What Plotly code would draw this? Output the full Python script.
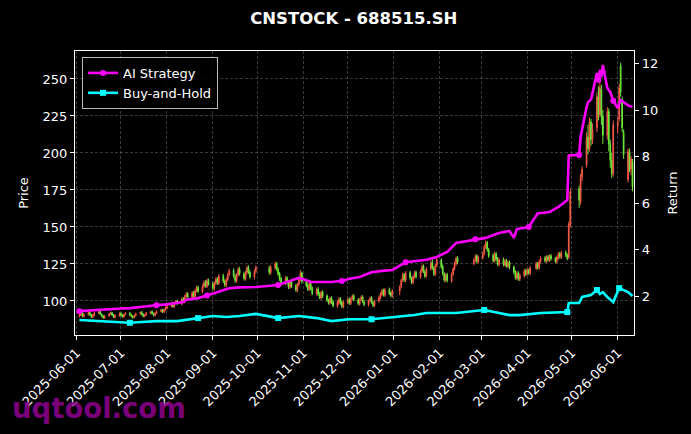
import pandas as pd
import plotly.graph_objects as go

# ---------------- data ----------------
holidays = ['2025-06-02', '2025-10-01', '2025-10-02', '2025-10-03', '2025-10-06',
            '2025-10-07', '2025-10-08', '2026-01-01', '2026-01-02', '2026-02-16',
            '2026-02-17', '2026-02-18', '2026-02-19', '2026-02-20', '2026-02-23',
            '2026-04-06', '2026-05-01', '2026-05-04', '2026-05-05']

open_ = [
    89.6, 90.6, 91.8, 89.5, 90.8, 92.3, 90.7, 89.2, 90.2, 91.8, 92.8, 91.0, 89.9, 88.4, 89.8, 91.3, 92.1, 90.6, 88.9, 90.1,
    91.6, 90.3, 89.3, 90.9, 91.8, 90.5, 89.6, 88.9, 90.2, 91.5, 92.4, 91.0, 89.6, 90.6, 91.9, 92.8, 91.4, 90.2, 91.7, 93.0, 93.9, 92.5, 94.0,
    95.1, 96.6, 98.0, 96.0, 98.7, 99.9, 97.9, 101.5, 99.2, 103.0, 104.8, 102.3, 105.6, 102.8, 107.1, 109.2, 106.1, 110.0, 112.6, 109.8, 113.9,
    111.5, 108.4, 112.1, 115.0, 112.0, 117.1, 113.2, 110.6, 114.5, 117.9, 120.6, 116.6, 113.5, 117.7, 121.5, 118.2, 115.0, 119.2, 122.7, 119.4, 116.0, 120.1,
    122.1, 119.1, 122.5, 125.4, 121.3, 118.5, 115.1, 111.9, 115.6, 112.1, 109.3, 113.1, 110.4, 107.1, 111.2, 114.3, 118.9,
    113.5, 110.9, 108.1, 111.7, 108.5, 104.8, 108.1, 104.9, 102.0, 106.0, 103.4, 100.3, 98.6, 102.1, 99.5, 96.5, 98.6, 101.6, 99.0, 96.1,
    98.9, 101.1, 98.3, 101.7, 103.5, 100.6, 98.0, 100.9, 102.8, 99.5, 97.3, 100.2, 102.1, 99.0, 96.8, 99.9, 102.1, 104.5, 107.2, 103.9, 107.8, 105.4, 103.3,
    106.5, 109.7, 114.1, 117.9, 113.9, 119.2, 115.3, 112.5, 116.6, 119.4, 116.1, 120.1, 123.5, 119.8, 117.0, 121.8, 126.1, 122.1, 118.0, 124.0,
    127.6, 123.4, 118.3, 114.0, 117.8, 113.5, 118.2, 121.9, 125.0, 129.0, 125.3, 127.7, 130.4, 126.5,
    129.2, 132.1, 136.7, 139.5, 134.4, 130.8, 127.0, 131.9, 128.5, 124.6, 128.1, 124.3, 127.2, 123.5, 126.2, 122.9, 119.7, 115.5, 118.9, 114.6, 117.0, 120.5,
    118.4, 121.1, 118.6, 122.0, 125.4, 122.3, 126.7, 129.2, 126.9, 129.9, 127.5, 130.6, 128.8, 126.6, 129.1, 132.0, 129.5, 132.9, 131.2, 129.5, 151.2,
    176, 167, 184, 192, 211, 203, 221, 209, 217, 238, 226, 243, 225, 212, 228, 206, 195, 186,
    218, 223, 259, 236, 214, 182, 200, 189, 194,
]
high = [
    91.9, 92.4, 92.5, 91.6, 93.0, 92.9, 91.4, 91.2, 92.8, 93.5, 93.4, 91.6, 90.5, 90.6, 91.9, 92.9, 92.6, 91.2, 91.0, 92.3,
    92.4, 91.1, 91.5, 92.5, 92.6, 91.3, 90.3, 90.9, 92.1, 92.9, 93.2, 91.7, 91.2, 92.5, 93.5, 93.6, 92.2, 92.4, 93.7, 94.7, 94.6, 94.9, 96.2,
    97.3, 98.6, 99.1, 99.4, 100.8, 100.7, 102.5, 102.6, 104.1, 105.9, 106.0, 106.6, 106.8, 108.2, 110.4, 110.3, 111.2, 113.9, 114.0, 115.2, 115.1,
    113.0, 113.2, 116.1, 116.2, 118.3, 118.4, 114.6, 115.7, 119.0, 121.8, 122.1, 118.2, 118.9, 122.7, 123.0, 119.6, 120.4, 123.9, 124.1, 120.8, 121.3, 124.0,
    123.6, 124.3, 126.5, 126.3, 122.8, 119.6, 116.2, 116.7, 116.8, 113.3, 114.1, 114.4, 111.6, 112.2, 115.8, 120.9, 119.8,
    114.6, 112.2, 112.7, 112.9, 109.7, 109.1, 109.3, 106.2, 106.9, 107.2, 104.5, 101.5, 102.9, 103.1, 100.6, 100.2, 102.5, 102.7, 100.1, 100.4,
    102.0, 102.3, 102.6, 104.4, 104.6, 101.9, 101.8, 103.7, 103.9, 100.6, 101.0, 103.0, 103.2, 100.2, 100.8, 103.6, 105.9, 108.1, 108.4, 108.7, 109.0, 106.5, 108.0,
    110.6, 115.2, 119.1, 119.0, 120.2, 120.3, 116.5, 117.6, 120.4, 120.5, 121.2, 124.6, 124.7, 121.1, 122.9, 127.3, 129.6, 123.5, 125.1, 130.2,
    128.9, 124.6, 119.5, 118.8, 119.0, 119.1, 122.9, 126.6, 130.1, 130.3, 128.7, 131.4, 131.6, 130.8,
    133.3, 137.8, 140.9, 140.6, 135.8, 132.1, 133.1, 133.0, 129.7, 129.2, 129.3, 128.3, 128.4, 127.2, 127.4, 124.1, 120.9, 120.0, 120.1, 118.6, 121.5, 121.8,
    122.2, 121.9, 123.6, 126.5, 126.3, 127.7, 130.2, 130.4, 130.9, 131.0, 131.6, 131.7, 129.9, 130.6, 132.9, 133.2, 133.8, 134.1, 132.0, 153.6, 176.2,
    178, 186, 191, 214, 219, 224, 223, 220, 241, 245, 248, 246, 229, 231, 230, 209, 200, 222,
    224, 247, 261, 238, 216, 203, 203, 198, 196,
]
low = [
    88.9, 89.9, 89.0, 88.8, 90.1, 90.0, 88.6, 88.5, 89.6, 91.1, 90.5, 89.1, 87.9, 87.8, 89.2, 90.6, 89.8, 88.4, 88.2, 89.4,
    89.5, 88.7, 88.6, 90.2, 89.9, 88.8, 88.1, 88.2, 89.5, 90.8, 90.2, 89.0, 88.9, 89.9, 91.2, 90.8, 89.6, 89.5, 91.0, 92.3, 91.9, 91.8, 93.3,
    94.4, 95.8, 95.4, 95.3, 97.9, 97.2, 97.1, 98.6, 98.4, 102.1, 101.7, 101.5, 102.2, 102.0, 106.0, 105.3, 105.2, 108.9, 109.0, 108.7, 110.3,
    106.9, 107.1, 110.8, 110.9, 110.7, 112.1, 109.5, 109.2, 113.1, 116.5, 115.5, 112.4, 112.2, 116.3, 117.1, 113.8, 113.7, 117.8, 118.3, 114.9, 114.6, 118.7,
    117.8, 117.6, 121.1, 120.2, 116.9, 113.5, 110.3, 110.6, 111.2, 108.1, 108.0, 108.8, 106.1, 105.9, 109.9, 113.2, 111.8,
    109.3, 106.7, 106.8, 107.0, 103.9, 103.6, 103.4, 101.1, 100.8, 101.9, 99.4, 97.6, 97.4, 98.0, 95.6, 95.3, 97.4, 97.5, 95.2, 94.9,
    97.7, 97.4, 97.2, 100.5, 99.7, 97.1, 96.9, 99.8, 98.6, 96.4, 96.2, 98.9, 98.1, 95.9, 95.7, 98.8, 101.0, 103.3, 103.0, 102.7, 104.0, 102.4, 102.1,
    103.8, 108.5, 112.9, 112.8, 112.6, 114.3, 111.4, 111.3, 115.2, 115.1, 115.0, 118.8, 118.9, 115.4, 115.8, 120.5, 121.1, 116.9, 116.8, 122.7,
    121.8, 117.3, 112.9, 112.7, 112.5, 112.2, 116.9, 120.6, 123.8, 124.9, 124.0, 126.4, 125.5, 125.2,
    127.9, 130.8, 135.3, 133.2, 129.1, 126.0, 125.8, 126.9, 123.6, 123.4, 123.3, 123.1, 122.5, 122.3, 121.4, 118.1, 114.4, 114.2, 113.6, 113.3, 115.8, 116.8,
    117.2, 117.6, 117.4, 120.8, 121.3, 121.1, 125.5, 125.9, 125.7, 126.5, 126.3, 127.2, 125.6, 125.4, 127.9, 128.5, 128.3, 129.7, 127.5, 128.4, 149.6,
    163, 165, 181, 190, 199, 201, 205, 206, 214, 222, 224, 219, 206, 209, 201, 190, 183, 184,
    213, 221, 238, 214, 196, 180, 187, 185, 174,
]
close = [
    90.8, 91.6, 89.7, 90.9, 92.1, 90.6, 89.3, 90.4, 91.9, 92.6, 91.1, 89.8, 88.6, 89.9, 91.2, 92.0, 90.5, 89.1, 90.3, 91.5,
    90.2, 89.4, 90.8, 91.7, 90.6, 89.5, 88.8, 90.1, 91.4, 92.2, 90.9, 89.7, 90.5, 91.8, 92.7, 91.5, 90.3, 91.6, 92.9, 93.8, 92.6, 94.1, 95.3,
    96.4, 97.8, 96.2, 98.5, 99.7, 98.1, 101.2, 99.4, 102.8, 104.5, 102.6, 105.3, 103.1, 106.8, 108.9, 106.4, 109.7, 112.3, 110.1, 113.6, 111.2,
    108.6, 111.9, 114.7, 112.3, 116.8, 113.5, 110.9, 114.2, 117.6, 120.3, 116.9, 113.8, 117.4, 121.2, 118.5, 115.2, 118.9, 122.4, 119.7, 116.3, 119.8, 122.6,
    119.4, 122.8, 125.1, 121.6, 118.2, 114.9, 111.7, 115.3, 112.4, 109.6, 112.8, 110.1, 107.4, 110.9, 114.6, 118.7, 113.2,
    110.6, 107.9, 111.4, 108.2, 105.1, 107.8, 104.6, 102.3, 105.7, 103.1, 100.6, 98.9, 101.8, 99.2, 96.8, 98.9, 101.3, 98.7, 96.4, 99.1,
    100.8, 98.6, 101.4, 103.2, 100.9, 98.3, 100.7, 102.5, 99.8, 97.6, 99.9, 101.8, 99.3, 97.1, 99.6, 102.4, 104.8, 106.9, 104.2, 107.5, 105.1, 103.6, 106.8,
    109.4, 113.8, 117.6, 114.2, 118.9, 115.6, 112.8, 116.3, 119.1, 116.4, 119.8, 123.2, 120.1, 116.7, 121.5, 125.8, 122.4, 118.3, 123.7, 127.9,
    123.1, 118.6, 114.2, 117.5, 113.8, 117.9, 121.6, 125.3, 128.7, 126.2, 127.4, 130.1, 126.8, 129.5,
    131.8, 136.4, 139.2, 134.7, 130.5, 127.3, 131.6, 128.2, 124.9, 127.8, 124.6, 126.9, 123.8, 125.9, 122.7, 119.4, 115.8, 118.6, 114.9, 117.3, 120.2, 118.1,
    120.8, 118.9, 122.3, 125.1, 122.6, 126.4, 128.9, 127.2, 129.6, 127.8, 130.3, 128.5, 126.9, 129.4, 131.7, 129.8, 132.6, 130.9, 128.7, 151.8, 173.9,
    168, 184, 189, 210, 203, 221, 209, 216, 238, 226, 244, 225, 212, 228, 206, 195, 186, 219,
    221, 244, 241, 217, 199, 201, 189, 196, 177,
]

ai_dates = ['2025-06-03', '2025-06-11', '2025-06-20', '2025-07-01', '2025-07-07', '2025-07-15',
            '2025-07-25', '2025-08-01', '2025-08-08', '2025-08-12', '2025-08-14', '2025-08-22',
            '2025-08-28', '2025-09-02', '2025-09-08', '2025-09-12', '2025-09-19', '2025-09-30',
            '2025-10-15', '2025-10-24', '2025-10-29', '2025-11-06', '2025-11-13', '2025-11-20',
            '2025-11-27', '2025-12-02', '2025-12-09', '2025-12-17', '2025-12-24', '2025-12-31',
            '2026-01-09', '2026-01-16', '2026-01-23', '2026-01-30', '2026-02-06', '2026-02-12',
            '2026-02-25', '2026-03-04', '2026-03-13', '2026-03-20', '2026-03-23', '2026-03-25',
            '2026-04-02', '2026-04-08', '2026-04-16', '2026-04-22', '2026-04-28', '2026-04-29',
            '2026-05-06', '2026-05-07', '2026-05-11', '2026-05-12', '2026-05-14', '2026-05-18',
            '2026-05-19', '2026-05-20', '2026-05-21', '2026-05-22', '2026-05-25', '2026-05-27',
            '2026-05-29', '2026-06-01', '2026-06-03', '2026-06-08', '2026-06-11']
ai_return = [1.35, 1.39, 1.42, 1.46, 1.48, 1.52,
             1.60, 1.64, 1.69, 1.74, 1.84, 1.91,
             2.02, 2.12, 2.22, 2.33, 2.37, 2.39,
             2.47, 2.68, 2.78, 2.61, 2.59, 2.60,
             2.65, 2.74, 2.82, 3.02, 3.08, 3.12,
             3.45, 3.50, 3.56, 3.68, 3.90, 4.28,
             4.44, 4.50, 4.71, 4.80, 4.50, 4.88,
             4.97, 5.55, 5.61, 5.83, 6.13, 8.05,
             8.07, 8.84, 10.13, 10.34, 10.45, 11.59,
             11.30, 11.72, 11.42, 11.94, 10.95, 10.77,
             10.40, 10.09, 10.43, 10.20, 10.13]

bh_dates = ['2025-06-03', '2025-06-13', '2025-06-24', '2025-07-07', '2025-07-15', '2025-07-25',
            '2025-08-08', '2025-08-15', '2025-08-22', '2025-09-01', '2025-09-10', '2025-09-19',
            '2025-09-30', '2025-10-15', '2025-10-29', '2025-11-10', '2025-11-20', '2025-12-02',
            '2025-12-17', '2025-12-31', '2026-01-15', '2026-01-23', '2026-02-12', '2026-03-03',
            '2026-03-10', '2026-03-20', '2026-03-27', '2026-04-10', '2026-04-28', '2026-04-29',
            '2026-05-06', '2026-05-08', '2026-05-14', '2026-05-18', '2026-05-20', '2026-05-22',
            '2026-05-25', '2026-05-29', '2026-06-02', '2026-06-08', '2026-06-11']
bh_return = [0.97, 0.93, 0.90, 0.85, 0.88, 0.92,
             0.92, 0.98, 1.05, 1.14, 1.10, 1.14,
             1.23, 1.05, 1.14, 1.05, 0.92, 1.00,
             1.00, 1.10, 1.18, 1.27, 1.27, 1.40,
             1.30, 1.18, 1.18, 1.27, 1.31, 1.70,
             1.70, 1.96, 2.04, 2.26, 2.09, 2.17,
             1.96, 1.74, 2.34, 2.17, 2.00]

month_ticks = ['2025-06-01', '2025-07-01', '2025-08-01', '2025-09-01', '2025-10-01',
               '2025-11-01', '2025-12-01', '2026-01-01', '2026-02-01', '2026-03-01',
               '2026-04-01', '2026-05-01', '2026-06-01']

trade_days = pd.bdate_range('2025-06-03', '2026-06-11', freq='C', holidays=holidays)
assert len(trade_days) == len(close) == len(open_) == len(high) == len(low)

# ---------------- figure ----------------
FONT = 'DejaVu Sans'
UP = '#f05a46'     # red = rising (CN convention)
DOWN = '#6ee63a'   # green = falling

fig = go.Figure()
fig.add_trace(go.Candlestick(
    x=trade_days, open=open_, high=high, low=low, close=close,
    increasing=dict(line=dict(color=UP, width=1), fillcolor=UP),
    decreasing=dict(line=dict(color=DOWN, width=1), fillcolor=DOWN),
    showlegend=False, yaxis='y', hoverinfo='skip'))
fig.add_trace(go.Scatter(
    x=ai_dates, y=ai_return, name='AI Strategy', yaxis='y2',
    mode='lines+markers', line=dict(color='#ff00ff', width=2.6),
    marker=dict(symbol='circle', size=6, color='#ff00ff', maxdisplayed=12)))
fig.add_trace(go.Scatter(
    x=bh_dates, y=bh_return, name='Buy-and-Hold', yaxis='y2',
    mode='lines+markers', line=dict(color='#00ffff', width=2.6),
    marker=dict(symbol='square', size=6, color='#00ffff', maxdisplayed=9)))

grid = dict(showgrid=True, gridcolor='rgba(140,140,140,0.4)', griddash='3px,2px', gridwidth=0.6)

fig.update_layout(
    width=691, height=434, autosize=False,
    margin=dict(l=75, r=57, t=51, b=99),
    paper_bgcolor='black', plot_bgcolor='black',
    font=dict(family=FONT, color='white', size=13),
    title=dict(text='CNSTOCK - 688515.SH', x=0.512, xanchor='center', y=0.958, yanchor='middle',
               font=dict(family=FONT, size=16.5, color='white', weight='bold')),
    xaxis=dict(type='date', range=['2025-05-31', '2026-06-12'],
               tickvals=month_ticks, ticktext=month_ticks, tickangle=-45,
               tickfont=dict(size=13, color='white'),
               ticks='outside', ticklen=4, tickcolor='white',
               showline=True, linecolor='white', linewidth=1.2, mirror=True,
               rangeslider=dict(visible=False), zeroline=False, **grid),
    yaxis=dict(range=[77.0, 268.9], tickvals=[100, 125, 150, 175, 200, 225, 250],
               title=dict(text='Price', font=dict(size=13), standoff=10),
               tickfont=dict(size=13, color='white'),
               ticks='outside', ticklen=4, tickcolor='white',
               showline=True, linecolor='white', linewidth=1.2, zeroline=False, **grid),
    yaxis2=dict(range=[0.323, 12.54], overlaying='y', side='right',
                tickvals=[2, 4, 6, 8, 10, 12],
                title=dict(text='Return', font=dict(size=13), standoff=10),
                tickfont=dict(size=13, color='white'),
                ticks='outside', ticklen=4, tickcolor='white',
                showline=True, linecolor='white', linewidth=1.2,
                showgrid=False, zeroline=False),
    legend=dict(x=0.0125, y=0.979, xanchor='left', yanchor='top',
                bgcolor='rgba(0,0,0,0.85)', bordercolor='#bbbbbb', borderwidth=1,
                font=dict(size=13, color='white'), tracegroupgap=2),
    annotations=[dict(text='<b>uqtool.com</b>', xref='paper', yref='paper',
                      x=-0.117, y=-0.257, xanchor='left', yanchor='middle', showarrow=False,
                      font=dict(family=FONT, size=27.5, color='rgba(140,0,140,0.9)'))],
)

fig.write_html('out.html')
